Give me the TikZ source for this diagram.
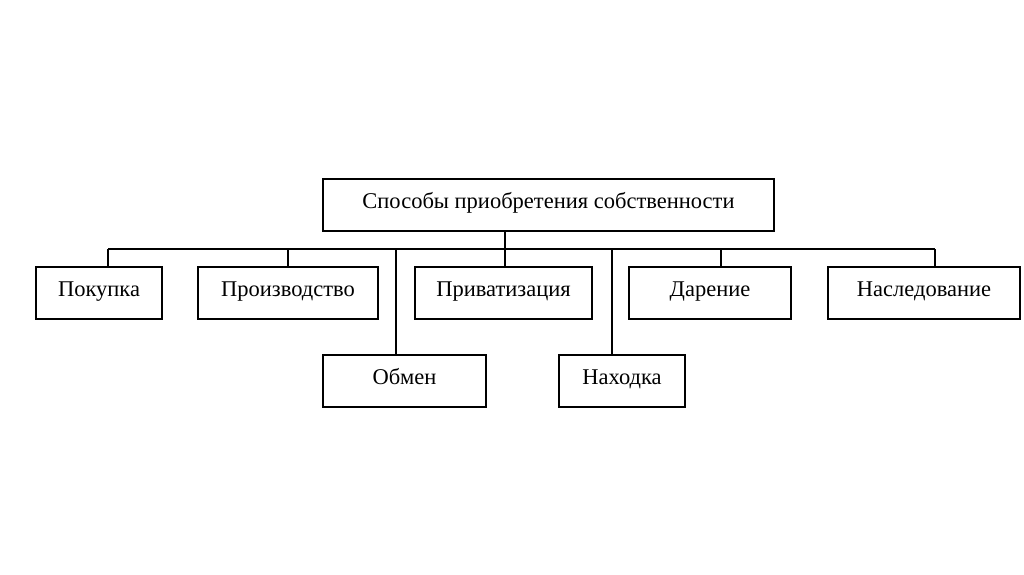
\documentclass[tikz,border=0pt]{standalone}
\usepackage{fontspec}
\setmainfont{Liberation Serif}
\begin{document}
\begin{tikzpicture}[x=1pt,y=-1pt,
  box/.style={draw,line width=1.5pt,minimum height=52pt,inner sep=0pt,text height=12pt,text depth=6pt,font=\fontsize{22.5}{26}\selectfont},
  conn/.style={line width=1.5pt}]
\useasboundingbox (0,0) rectangle (1024,574);
\node[box,minimum width=451pt] (top) at (548.5,205) {Способы приобретения собственности};
\node[box,minimum width=126pt] (pok) at (99,293) {Покупка};
\node[box,minimum width=180pt] (pro) at (288,293) {Производство};
\node[box,minimum width=177pt] (pri) at (503.5,293) {Приватизация};
\node[box,minimum width=162pt] (dar) at (710,293) {Дарение};
\node[box,minimum width=192pt] (nas) at (924,293) {Наследование};
\node[box,minimum width=163pt] (obm) at (404.5,381) {Обмен};
\node[box,minimum width=126pt] (nah) at (622,381) {Находка};
\coordinate (b1) at (108,249);
\coordinate (b2) at (288,249);
\coordinate (b3) at (396,249);
\coordinate (b4) at (505,249);
\coordinate (b5) at (612,249);
\coordinate (b6) at (721,249);
\coordinate (b7) at (935,249);
\draw[conn] (b1) -- (b7);
\draw[conn] (top.south -| b4) -- (pri.north -| b4);
\draw[conn] (b1) -- (pok.north -| b1);
\draw[conn] (b2) -- (pro.north -| b2);
\draw[conn] (b3) -- (obm.north -| b3);
\draw[conn] (b5) -- (nah.north -| b5);
\draw[conn] (b6) -- (dar.north -| b6);
\draw[conn] (b7) -- (nas.north -| b7);
\end{tikzpicture}
\end{document}
